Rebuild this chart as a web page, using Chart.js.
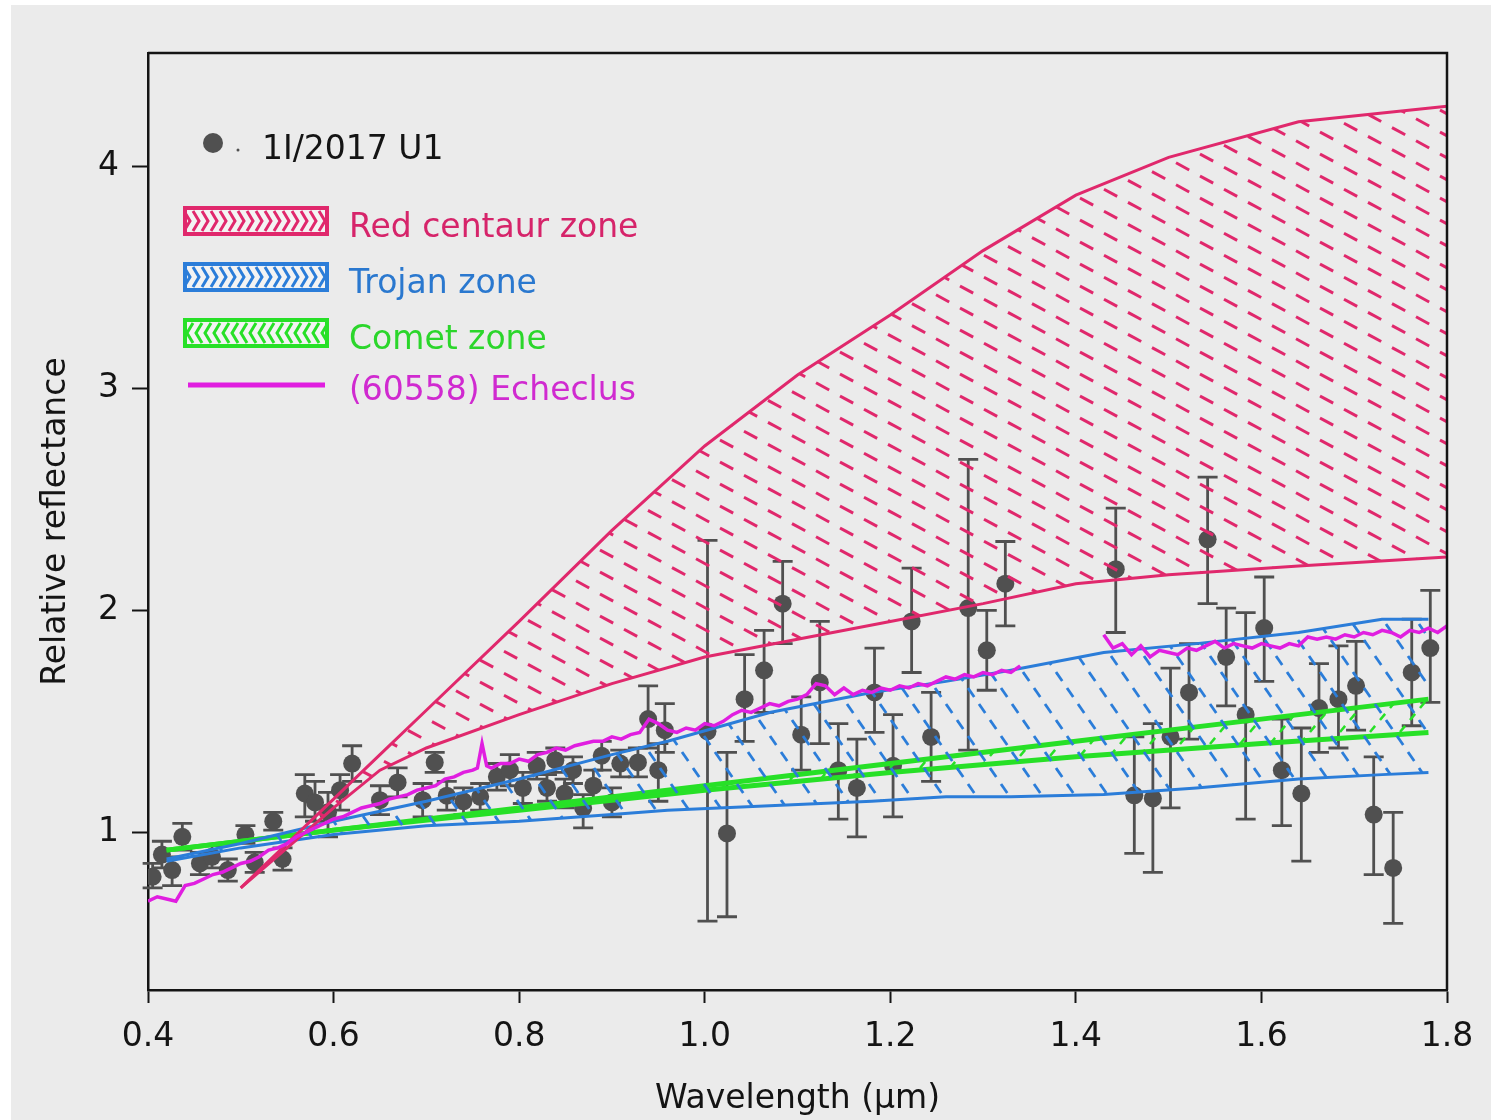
<!DOCTYPE html>
<html>
<head>
<meta charset="utf-8">
<title>Relative reflectance of 1I/2017 U1</title>
<script src="https://cdn.jsdelivr.net/npm/chart.js@4.4.1/dist/chart.umd.min.js"></script>
<style>
  html, body { margin: 0; padding: 0; background: #ffffff; }
  #wrap { position: relative; width: 1491px; height: 1120px; }
</style>
</head>
<body>
<div id="wrap"><canvas id="reflectance-chart" width="1491" height="1120"></canvas></div>
<script>
// Axis ticks
const xTicks = [0.4, 0.6, 0.8, 1.0, 1.2, 1.4, 1.6, 1.8];
const yTicks = [1, 2, 3, 4];

// 1I/2017 U1 reflectance and error bar bounds
const obsX = [0.405, 0.415, 0.426, 0.437, 0.456, 0.469, 0.486, 0.505, 0.515, 0.535,
              0.545, 0.569, 0.580, 0.594, 0.607, 0.620, 0.650, 0.669, 0.696, 0.709,
              0.722, 0.740, 0.758, 0.776, 0.790, 0.804, 0.819, 0.830, 0.839, 0.849,
              0.858, 0.869, 0.880, 0.889, 0.900, 0.909, 0.928, 0.939, 0.950, 0.957,
              1.003, 1.024, 1.043, 1.064, 1.084, 1.104, 1.124, 1.144, 1.164, 1.183,
              1.203, 1.223, 1.244, 1.284, 1.304, 1.324, 1.443, 1.463, 1.483, 1.502,
              1.522, 1.542, 1.562, 1.583, 1.603, 1.622, 1.643, 1.662, 1.683, 1.702,
              1.721, 1.742, 1.762, 1.782];
const obsY = [0.80, 0.90, 0.83, 0.98, 0.86, 0.89, 0.83, 0.99, 0.865, 1.05,
              0.88, 1.175, 1.135, 1.09, 1.19, 1.31, 1.145, 1.225, 1.145, 1.315,
              1.165, 1.14, 1.16, 1.25, 1.28, 1.20, 1.30, 1.20, 1.325, 1.175,
              1.28, 1.11, 1.21, 1.345, 1.135, 1.31, 1.315, 1.51, 1.28, 1.46,
              1.455, 0.995, 1.60, 1.73, 2.03, 1.44, 1.675, 1.28, 1.20, 1.63,
              1.30, 1.95, 1.43, 2.01, 1.82, 2.12, 2.185, 1.167, 1.153, 1.43,
              1.63, 2.32, 1.79, 1.53, 1.92, 1.28, 1.175, 1.56, 1.60, 1.66,
              1.08, 0.84, 1.72, 1.83];
const obsLow = [0.75, 0.84, 0.76, 0.92, 0.81, 0.84, 0.78, 0.95, 0.82, 1.01,
                0.83, 1.07, 1.05, 0.98, 1.10, 1.23, 1.08, 1.16, 1.07, 1.27,
                1.10, 1.08, 1.10, 1.19, 1.21, 1.13, 1.24, 1.14, 1.27, 1.11,
                1.22, 1.02, 1.14, 1.28, 1.07, 1.25, 1.25, 1.38, 1.14, 1.36,
                0.60, 0.62, 1.41, 1.54, 1.85, 1.28, 1.40, 1.06, 0.98, 1.45,
                1.07, 1.72, 1.23, 1.37, 1.64, 1.93, 1.90, 0.905, 0.82, 1.11,
                1.42, 2.03, 1.57, 1.06, 1.68, 1.03, 0.87, 1.36, 1.38, 1.46,
                0.81, 0.59, 1.48, 1.585];
const obsHigh = [0.86, 0.96, 0.89, 1.04, 0.91, 0.94, 0.88, 1.03, 0.91, 1.09,
                 0.93, 1.26, 1.23, 1.18, 1.26, 1.39, 1.21, 1.29, 1.22, 1.36,
                 1.23, 1.20, 1.22, 1.31, 1.35, 1.27, 1.36, 1.26, 1.38, 1.24,
                 1.34, 1.17, 1.28, 1.41, 1.20, 1.37, 1.38, 1.66, 1.40, 1.58,
                 2.315, 1.36, 1.80, 1.91, 2.22, 1.61, 1.95, 1.49, 1.42, 1.83,
                 1.53, 2.19, 1.63, 2.68, 2.00, 2.31, 2.46, 1.43, 1.49, 1.74,
                 1.85, 2.60, 2.01, 1.99, 2.15, 1.51, 1.47, 1.76, 1.84, 1.86,
                 1.34, 1.09, 1.96, 2.09];

// Red centaur zone envelope
const centaurX = [0.50, 0.60, 0.65, 0.70, 0.80, 0.90, 1.00, 1.10, 1.20, 1.30, 1.40, 1.50, 1.64, 1.80];
const centaurHigh = [0.75, 1.15, 1.35, 1.55, 1.95, 2.36, 2.74, 3.06, 3.33, 3.62, 3.87, 4.04, 4.20, 4.27];
const centaurLow = [0.75, 1.11, 1.28, 1.38, 1.53, 1.67, 1.79, 1.87, 1.95, 2.03, 2.12, 2.16, 2.20, 2.24];

// Trojan zone envelope
const trojanX = [0.42, 0.50, 0.60, 0.70, 0.80, 0.90, 0.96, 1.07, 1.18, 1.26, 1.33, 1.43, 1.53, 1.64, 1.73, 1.78];
const trojanHigh = [0.88, 0.95, 1.05, 1.14, 1.24, 1.35, 1.41, 1.54, 1.63, 1.68, 1.73, 1.81, 1.85, 1.90, 1.96, 1.96];
const trojanLow = [0.87, 0.93, 0.99, 1.03, 1.05, 1.08, 1.10, 1.12, 1.14, 1.16, 1.16, 1.17, 1.20, 1.24, 1.26, 1.27];

// Comet zone envelope
const cometX = [0.42, 0.60, 0.80, 1.00, 1.20, 1.40, 1.60, 1.78];
const cometHigh = [0.92, 1.01, 1.11, 1.21, 1.31, 1.41, 1.51, 1.60];
const cometLow = [0.92, 1.01, 1.10, 1.19, 1.27, 1.34, 1.40, 1.45];

// (60558) Echeclus spectrum, visible part
const echeclusVisX = [0.40, 0.41, 0.42, 0.43, 0.44, 0.45, 0.46, 0.47, 0.48, 0.49,
                      0.50, 0.51, 0.52, 0.53, 0.54, 0.55, 0.56, 0.57, 0.58, 0.59,
                      0.60, 0.61, 0.62, 0.63, 0.64, 0.65, 0.66, 0.67, 0.68, 0.69,
                      0.70, 0.71, 0.72, 0.73, 0.74, 0.75, 0.755, 0.76, 0.765, 0.77,
                      0.78, 0.79, 0.80, 0.81, 0.82, 0.83, 0.84, 0.85, 0.86, 0.87,
                      0.88, 0.89, 0.90, 0.91, 0.92, 0.93, 0.94, 0.95, 0.96, 0.97,
                      0.98, 0.99, 1.00, 1.01, 1.02, 1.03, 1.04, 1.05, 1.06, 1.07,
                      1.08, 1.09, 1.10, 1.11, 1.12, 1.13, 1.14, 1.15, 1.16, 1.17,
                      1.18, 1.19, 1.20, 1.21, 1.22, 1.23, 1.24, 1.25, 1.26, 1.27,
                      1.28, 1.29, 1.30, 1.31, 1.32, 1.33, 1.34];
const echeclusVisY = [0.69, 0.71, 0.70, 0.69, 0.76, 0.77, 0.79, 0.81, 0.82, 0.84,
                      0.86, 0.87, 0.89, 0.92, 0.93, 0.95, 0.98, 1.00, 1.02, 1.04,
                      1.06, 1.07, 1.09, 1.11, 1.12, 1.13, 1.15, 1.16, 1.17, 1.19,
                      1.20, 1.21, 1.24, 1.25, 1.27, 1.28, 1.29, 1.40, 1.30, 1.29,
                      1.31, 1.31, 1.33, 1.32, 1.35, 1.36, 1.38, 1.37, 1.39, 1.40,
                      1.41, 1.41, 1.43, 1.42, 1.44, 1.45, 1.51, 1.49, 1.46, 1.45,
                      1.47, 1.46, 1.49, 1.48, 1.50, 1.53, 1.55, 1.54, 1.56, 1.58,
                      1.57, 1.59, 1.60, 1.62, 1.67, 1.66, 1.62, 1.65, 1.62, 1.64,
                      1.63, 1.65, 1.64, 1.66, 1.65, 1.67, 1.66, 1.68, 1.70, 1.69,
                      1.71, 1.70, 1.72, 1.71, 1.73, 1.72, 1.75];

// (60558) Echeclus spectrum, near-infrared part
const echeclusNirX = [1.43, 1.44, 1.45, 1.46, 1.47, 1.48, 1.49, 1.50, 1.51, 1.52,
                      1.53, 1.54, 1.55, 1.56, 1.57, 1.58, 1.59, 1.60, 1.61, 1.62,
                      1.63, 1.64, 1.65, 1.66, 1.67, 1.68, 1.69, 1.70, 1.71, 1.72,
                      1.73, 1.74, 1.75, 1.76, 1.77, 1.78, 1.79, 1.80];
const echeclusNirY = [1.89, 1.83, 1.85, 1.80, 1.84, 1.79, 1.82, 1.81, 1.80, 1.83,
                      1.82, 1.84, 1.86, 1.83, 1.85, 1.84, 1.83, 1.85, 1.84, 1.83,
                      1.85, 1.84, 1.88, 1.87, 1.88, 1.87, 1.89, 1.88, 1.90, 1.89,
                      1.91, 1.90, 1.88, 1.91, 1.90, 1.92, 1.90, 1.93];

const RED = '#e0286c';
const BLUE = '#2b7dd9';
const GREEN = '#27e027';
const MAGENTA = '#e01ee0';
const POINT = '#505050';
const INK = '#141414';
const FONT = '"DejaVu Sans", sans-serif';
const FONT_SIZE = 33;

Chart.defaults.font.family = FONT;
Chart.defaults.color = INK;

// Repeating dash hatch; marks are [x, y] start positions inside the tile
function makeHatch(color, w, h, marks, dir, len, width) {
    const c = document.createElement('canvas');
    c.width = w;
    c.height = h;
    const g = c.getContext('2d');
    const n = Math.hypot(dir[0], dir[1]);
    const ux = dir[0] / n, uy = dir[1] / n;
    g.strokeStyle = color;
    g.lineWidth = width;
    marks.forEach(([mx, my]) => {
        for (const ox of [-w, 0, w]) {
            for (const oy of [-h, 0, h]) {
                g.beginPath();
                g.moveTo(mx + ox, my + oy);
                g.lineTo(mx + ox + ux * len, my + oy + uy * len);
                g.stroke();
            }
        }
    });
    return g.createPattern(c, 'repeat');
}

const ctx = document.getElementById('reflectance-chart').getContext('2d');
const redHatch = makeHatch(RED, 120, 22, [[0, 0], [24, 13.2], [48, 4.4], [72, 17.6], [96, 8.8]], [24, 13], 15, 3);
const blueHatch = makeHatch(BLUE, 33, 48, [[0, 0], [11, 16], [22, 32]], [11, 16], 11, 2.8);
const greenHatch = makeHatch(GREEN, 30, 36, [[0, 0], [10, 24], [20, 12]], [10, -12], 8, 2.5);

function toPoints(xs, ys) {
    return xs.map((x, i) => ({x: x, y: ys[i]}));
}

function zoneLine(label, xs, ys, color, width, fill, pattern) {
    return {
        label: label,
        data: toPoints(xs, ys),
        borderColor: color,
        borderWidth: width,
        backgroundColor: pattern || 'transparent',
        fill: fill,
        pointRadius: 0,
        tension: 0,
        order: 5
    };
}

// Page background
const backdrop = {
    id: 'backdrop',
    beforeDraw(chart) {
        const c = chart.ctx;
        c.save();
        c.fillStyle = '#ebebeb';
        c.fillRect(11, 5, chart.width - 11, chart.height - 5);
        c.restore();
    }
};

// Vertical error bars with caps, drawn beneath the markers
const errorBars = {
    id: 'errorBars',
    beforeDatasetsDraw(chart) {
        const c = chart.ctx;
        const {x, y} = chart.scales;
        c.save();
        c.strokeStyle = POINT;
        c.lineWidth = 2.8;
        obsX.forEach((v, i) => {
            const px = x.getPixelForValue(v);
            const top = y.getPixelForValue(obsHigh[i]);
            const bot = y.getPixelForValue(obsLow[i]);
            c.beginPath();
            c.moveTo(px, top); c.lineTo(px, bot);
            c.moveTo(px - 10, top); c.lineTo(px + 10, top);
            c.moveTo(px - 10, bot); c.lineTo(px + 10, bot);
            c.stroke();
        });
        c.restore();
    }
};

// Closing top and right edges of the plot frame
const frame = {
    id: 'frame',
    afterDraw(chart) {
        const {left, right, top, bottom} = chart.chartArea;
        const c = chart.ctx;
        c.save();
        c.strokeStyle = INK;
        c.lineWidth = 2.5;
        c.beginPath();
        c.moveTo(left, top);
        c.lineTo(right, top);
        c.lineTo(right, bottom);
        c.stroke();
        c.restore();
    }
};

function drawSwatch(c, x, y, w, h, color, dir) {
    c.fillStyle = '#f3f3f3';
    c.fillRect(x, y, w, h);
    c.save();
    c.beginPath();
    c.rect(x, y, w, h);
    c.clip();
    c.strokeStyle = color;
    c.lineWidth = 3;
    for (let sx = x - 10; sx < x + w + 10; sx += 9) {
        c.beginPath();
        c.moveTo(sx, y + 3);
        c.lineTo(sx + dir * 6, y + h / 2);
        c.lineTo(sx, y + h - 3);
        c.stroke();
    }
    c.restore();
    c.strokeStyle = color;
    c.lineWidth = 4;
    c.strokeRect(x, y, w, h);
}

// Legend in the upper left corner of the plot
const zoneLegend = {
    id: 'zoneLegend',
    afterDraw(chart) {
        const c = chart.ctx;
        const {left, top} = chart.chartArea;
        const sets = chart.data.datasets;
        c.save();
        c.font = FONT_SIZE + 'px ' + FONT;
        c.textBaseline = 'middle';

        c.fillStyle = POINT;
        c.beginPath();
        c.arc(left + 65, top + 90, 10, 0, Math.PI * 2);
        c.fill();
        c.beginPath();
        c.arc(left + 90, top + 97, 1.5, 0, Math.PI * 2);
        c.fill();
        c.fillStyle = INK;
        c.fillText(sets[8].label, left + 114, top + 97);

        const swatches = [[0, RED, 1, '#d6246a'], [2, BLUE, 1, '#2a78cf'], [4, GREEN, -1, '#2bd62b']];
        swatches.forEach(([idx, color, dir, textColor], k) => {
            const y0 = top + 155 + k * 56;
            drawSwatch(c, left + 37, y0, 142, 26, color, dir);
            c.fillStyle = textColor;
            c.fillText(sets[idx].label, left + 201, y0 + 20);
        });

        c.strokeStyle = MAGENTA;
        c.lineWidth = 5;
        c.beginPath();
        c.moveTo(left + 40, top + 332);
        c.lineTo(left + 177, top + 332);
        c.stroke();
        c.fillStyle = '#d02ad0';
        c.fillText(sets[6].label, left + 201, top + 338);
        c.restore();
    }
};

new Chart(ctx, {
    type: 'line',
    data: {
        datasets: [
            zoneLine('Red centaur zone', centaurX, centaurHigh, RED, 3, '+1', redHatch),
            zoneLine('', centaurX, centaurLow, RED, 3, false),
            zoneLine('Trojan zone', trojanX, trojanHigh, BLUE, 3, '+1', blueHatch),
            zoneLine('', trojanX, trojanLow, BLUE, 3, false),
            zoneLine('Comet zone', cometX, cometHigh, GREEN, 5, '+1', greenHatch),
            zoneLine('', cometX, cometLow, GREEN, 5, false),
            {
                label: '(60558) Echeclus',
                data: toPoints(echeclusVisX, echeclusVisY),
                borderColor: MAGENTA,
                borderWidth: 3.5,
                pointRadius: 0,
                tension: 0,
                fill: false,
                order: 1
            },
            {
                label: '(60558) Echeclus NIR',
                data: toPoints(echeclusNirX, echeclusNirY),
                borderColor: MAGENTA,
                borderWidth: 3.5,
                pointRadius: 0,
                tension: 0,
                fill: false,
                order: 1
            },
            {
                label: '1I/2017 U1',
                data: toPoints(obsX, obsY),
                showLine: false,
                pointRadius: 9,
                pointBackgroundColor: POINT,
                pointBorderWidth: 0,
                order: 10
            }
        ]
    },
    options: {
        responsive: false,
        animation: false,
        events: [],
        layout: {
            padding: {top: 53, right: 44, left: 0, bottom: 0}
        },
        plugins: {
            legend: {display: false},
            tooltip: {enabled: false}
        },
        scales: {
            x: {
                type: 'linear',
                min: 0.4,
                max: 1.8,
                afterBuildTicks: function(scale) {
                    scale.ticks = xTicks.map(v => ({value: v}));
                },
                afterFit: function(scale) {
                    scale.height = 130;
                },
                ticks: {
                    callback: v => v.toFixed(1),
                    font: {size: FONT_SIZE},
                    color: INK,
                    padding: 15,
                    maxRotation: 0,
                    autoSkip: false
                },
                grid: {
                    drawOnChartArea: false,
                    drawTicks: true,
                    tickLength: 13,
                    tickWidth: 2,
                    tickColor: INK
                },
                border: {display: true, color: INK, width: 2.5},
                title: {
                    display: true,
                    text: 'Wavelength (µm)',
                    font: {size: FONT_SIZE},
                    color: INK,
                    padding: {top: 0, bottom: 1}
                }
            },
            y: {
                type: 'linear',
                min: 0.29,
                max: 4.51,
                afterBuildTicks: function(scale) {
                    scale.ticks = yTicks.map(v => ({value: v}));
                },
                afterFit: function(scale) {
                    scale.width = 148;
                },
                ticks: {
                    font: {size: FONT_SIZE},
                    color: INK,
                    padding: 13
                },
                grid: {
                    drawOnChartArea: false,
                    drawTicks: true,
                    tickLength: 16,
                    tickWidth: 2,
                    tickColor: INK
                },
                border: {display: true, color: INK, width: 2.5},
                title: {
                    display: true,
                    text: 'Relative reflectance',
                    font: {size: FONT_SIZE},
                    color: INK,
                    padding: {top: 37, bottom: 0}
                }
            }
        }
    },
    plugins: [backdrop, errorBars, frame, zoneLegend]
});
</script>
</body>
</html>
